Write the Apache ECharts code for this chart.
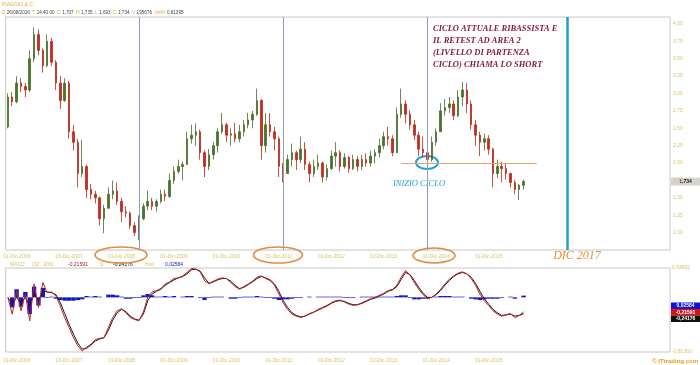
<!DOCTYPE html>
<html><head><meta charset="utf-8">
<script src="https://cdn.jsdelivr.net/npm/echarts@6/dist/echarts.min.js"></script>
<style>html,body{margin:0;padding:0;background:#fff}#c{width:700px;height:365px}</style>
</head><body><div id="c"></div>
<script>
// ---- categories: months Oct 2006 .. May 2019 ----
const months = [];
for (let y = 2006, m = 10; !(y === 2019 && m === 6);) {
  months.push(y + '-' + String(m).padStart(2, '0'));
  m++; if (m > 12) { m = 1; y++; }
}
const tickMonths = ['2006-12','2007-12','2008-12','2009-12','2010-12','2011-12','2012-12','2013-12','2014-12','2015-12'];
const tickLabels = ['01-Dic-2006','03-Dic-2007','01-Dic-2008','01-Dic-2009','01-Dic-2010','01-Dic-2011','03-Dic-2012','02-Dic-2013','01-Dic-2014','01-Dic-2015'];

// ---- monthly OHLC ----
const open = [2.52,2.95,2.88,3.15,3.10,3.05,3.50,3.85,3.62,3.40,
 3.75,3.45,3.15,2.90,3.15,2.45,2.30,1.85,1.95,1.62,
 1.55,1.50,1.20,1.35,1.55,1.60,1.45,1.30,1.28,1.10,
 1.00,1.20,1.38,1.45,1.38,1.45,1.55,1.52,1.75,1.88,
 1.95,1.98,2.35,2.40,2.45,2.15,1.95,2.12,2.25,2.45,
 2.55,2.40,2.42,2.35,2.45,2.55,2.62,2.70,2.90,2.25,
 2.55,2.45,2.35,1.95,1.85,2.05,2.15,2.05,2.20,1.98,
 1.85,1.95,2.00,1.80,1.92,2.10,2.15,1.95,2.08,1.92,
 2.05,1.95,2.05,2.00,2.10,2.15,2.25,2.38,2.35,2.15,
 2.70,2.85,2.70,2.55,2.40,2.20,2.15,2.05,2.30,2.45,
 2.75,2.80,2.85,2.68,2.95,3.05,2.85,2.55,2.40,2.30,
 2.35,2.20,1.85,1.95,1.92,1.85,1.72,1.62,1.68];
const close = [2.95,2.88,3.15,3.10,3.05,3.50,3.85,3.62,3.40,3.75,
 3.45,3.15,2.90,3.15,2.45,2.30,1.85,1.95,1.62,1.55,
 1.50,1.20,1.35,1.55,1.60,1.45,1.30,1.28,1.10,1.00,
 1.20,1.38,1.45,1.38,1.45,1.55,1.52,1.75,1.88,1.95,
 1.98,2.35,2.40,2.45,2.15,1.95,2.12,2.25,2.45,2.55,
 2.40,2.42,2.35,2.45,2.55,2.62,2.70,2.90,2.25,2.55,
 2.45,2.35,1.95,1.85,2.05,2.15,2.05,2.20,1.98,1.85,
 1.95,2.00,1.80,1.92,2.10,2.15,1.95,2.08,1.92,2.05,
 1.95,2.05,2.00,2.10,2.15,2.25,2.38,2.35,2.15,2.70,
 2.85,2.70,2.55,2.40,2.20,2.15,2.05,2.30,2.45,2.75,
 2.80,2.85,2.68,2.95,3.05,2.85,2.55,2.40,2.30,2.35,
 2.20,1.85,1.95,1.92,1.85,1.72,1.62,1.68,1.734];
const low = [2.50,2.82,2.86,3.02,2.95,3.02,3.45,3.55,3.30,3.38,
 3.40,3.05,2.78,2.88,2.35,2.18,1.65,1.80,1.50,1.48,
 1.42,1.10,0.99,1.35,1.48,1.40,1.15,1.22,1.05,0.95,
 0.89,1.18,1.32,1.32,1.30,1.42,1.45,1.50,1.70,1.85,
 1.75,1.98,2.28,2.25,2.05,1.80,1.90,2.05,2.15,2.42,
 2.30,2.25,2.30,2.30,2.38,2.50,2.50,2.68,2.05,2.15,
 2.38,2.18,1.80,1.72,1.85,1.95,1.90,2.00,1.90,1.72,
 1.80,1.90,1.72,1.75,1.90,1.95,1.88,1.92,1.86,1.90,
 1.88,1.90,1.95,1.95,2.00,2.08,2.20,2.25,2.10,2.14,
 2.65,2.57,2.48,2.33,2.10,2.08,1.92,2.02,2.25,2.45,
 2.68,2.72,2.62,2.66,2.82,2.72,2.48,2.25,2.10,2.18,
 2.12,1.65,1.78,1.72,1.76,1.65,1.55,1.47,1.62];
const high = [3.00,3.02,3.25,3.22,3.15,3.62,3.95,3.92,3.65,3.85,
 3.80,3.48,3.25,3.22,3.18,2.55,2.35,2.33,1.98,1.70,
 1.60,1.52,1.40,1.65,1.75,1.72,1.50,1.38,1.30,1.15,
 1.25,1.42,1.60,1.50,1.48,1.62,1.62,1.85,1.95,2.05,
 2.02,2.45,2.55,2.57,2.48,2.18,2.20,2.30,2.50,2.72,
 2.58,2.50,2.58,2.55,2.62,2.72,2.75,3.07,2.92,2.72,
 2.72,2.52,2.38,2.00,2.12,2.28,2.18,2.38,2.30,2.02,
 2.05,2.12,2.02,1.98,2.18,2.30,2.18,2.14,2.10,2.12,
 2.10,2.12,2.14,2.18,2.20,2.35,2.45,2.52,2.40,2.80,
 3.07,2.90,2.76,2.62,2.45,2.38,2.15,2.38,2.50,2.86,
 2.92,2.95,2.90,3.05,3.17,3.15,2.90,2.62,2.45,2.42,
 2.40,2.22,2.05,2.02,2.00,1.86,1.76,1.70,1.76];

// ---- MACD (32,200) ----
const macd = [0.00,-0.25,0.10,-0.20,0.05,-0.35,0.20,-0.15,0.22,0.07,
 0.08,0.02,-0.13,-0.30,-0.45,-0.60,-0.72,-0.80,-0.74,-0.70,
 -0.63,-0.61,-0.60,-0.45,-0.30,-0.20,-0.17,-0.23,-0.30,-0.33,
 -0.35,-0.22,0.00,0.08,0.10,0.13,0.20,0.23,0.28,0.29,
 0.32,0.37,0.43,0.42,0.38,0.25,0.20,0.24,0.27,0.29,
 0.28,0.22,0.16,0.12,0.16,0.20,0.24,0.30,0.32,0.28,
 0.25,0.18,0.05,-0.08,-0.18,-0.25,-0.28,-0.30,-0.28,-0.24,
 -0.22,-0.18,-0.15,-0.12,-0.08,-0.05,-0.04,-0.07,-0.10,-0.12,
 -0.11,-0.08,-0.05,-0.02,0.00,0.03,0.06,0.10,0.12,0.18,
 0.30,0.40,0.33,0.22,0.12,0.04,-0.02,0.00,0.05,0.12,
 0.20,0.27,0.32,0.36,0.38,0.35,0.28,0.18,0.05,-0.05,
 -0.12,-0.20,-0.25,-0.28,-0.26,-0.24,-0.30,-0.27,-0.21591];
const signal = [0.00,-0.10,0.00,-0.08,0.00,-0.12,0.05,-0.05,0.10,0.08,
 0.07,0.04,-0.08,-0.24,-0.40,-0.55,-0.68,-0.77,-0.76,-0.71,
 -0.65,-0.62,-0.60,-0.49,-0.34,-0.23,-0.18,-0.21,-0.28,-0.32,
 -0.34,-0.25,-0.05,0.05,0.09,0.12,0.18,0.22,0.26,0.29,
 0.31,0.35,0.41,0.42,0.39,0.29,0.21,0.23,0.26,0.28,
 0.28,0.24,0.18,0.13,0.15,0.19,0.23,0.28,0.31,0.29,
 0.26,0.20,0.09,-0.05,-0.15,-0.23,-0.27,-0.29,-0.28,-0.25,
 -0.22,-0.19,-0.16,-0.13,-0.09,-0.06,-0.05,-0.06,-0.09,-0.11,
 -0.11,-0.09,-0.06,-0.03,-0.01,0.02,0.05,0.09,0.11,0.16,
 0.27,0.37,0.34,0.25,0.15,0.06,0.00,0.00,0.04,0.10,
 0.18,0.25,0.31,0.35,0.37,0.35,0.30,0.21,0.09,-0.02,
 -0.10,-0.18,-0.23,-0.27,-0.26,-0.25,-0.28,-0.27,-0.24176];
const hist = [0.00,-0.15,0.12,-0.14,0.08,-0.25,0.16,-0.12,0.14,-0.01,
 0.01,-0.02,-0.04,-0.05,-0.05,-0.05,-0.04,-0.03,0.02,0.01,
 0.02,0.01,0.00,0.04,0.04,0.03,0.01,-0.02,-0.02,-0.01,
 -0.01,0.03,0.05,0.03,0.01,0.01,0.02,0.01,0.02,0.00,
 0.01,0.02,0.02,0.00,-0.01,-0.04,-0.01,0.01,0.01,0.01,
 0.00,-0.02,-0.02,-0.01,0.01,0.01,0.01,0.02,0.01,-0.01,
 -0.01,-0.02,-0.04,-0.03,-0.03,-0.02,-0.01,-0.01,0.00,0.01,
 0.00,0.01,0.01,0.01,0.01,0.01,0.01,-0.01,-0.01,-0.01,
 0.00,0.01,0.01,0.01,0.01,0.01,0.01,0.01,0.01,0.02,
 0.03,0.03,-0.01,-0.03,-0.03,-0.02,-0.02,0.00,0.01,0.02,
 0.02,0.02,0.01,0.01,0.01,0.00,-0.02,-0.03,-0.04,-0.03,
 -0.02,-0.02,-0.02,-0.01,0.00,0.01,-0.02,0.00,0.02584];

// ---- annotations ----
const cycleLines = ['2009-04','2012-01','2014-10'];
const targetLine = '2017-06';
const levelLine = { from: '2014-04', to: '2016-11', value: 2.0 };
const lastClose = 1.734;
const noteLines = ['CICLO ATTUALE RIBASSISTA E','IL RETEST AD AREA 2','(LIVELLO DI PARTENZA','CICLO) CHIAMA LO SHORT'];
const header = [['D','26/08/2016'],['T','14:40:00'],['O','1,707'],['H','1,735'],['L','1,693'],['C','1,734'],['V','195676'],['Var%','0,81395']];

const fmt = (v, d) => v.toFixed(d).replace('.', ',');
const axisYellow = '#d6c266';
const candleData = open.map((o, i) => [o, close[i], low[i], high[i]]);

function mkX(gi, margin) {
  return {
    type: 'category', gridIndex: gi, data: months, boundaryGap: true,
    axisLine: { show: false }, axisTick: { show: false }, splitLine: { show: false },
    axisLabel: {
      interval: (i, v) => tickMonths.includes(v),
      formatter: v => tickLabels[tickMonths.indexOf(v)] || '',
      color: axisYellow, fontSize: 5, margin: margin, hideOverlap: false,
      fontFamily: 'Liberation Sans'
    }
  };
}

const chart = echarts.init(document.getElementById('c'), null, { renderer: 'canvas' });
const option = {
  animation: false,
  backgroundColor: '#fff',
  grid: [
    { left: 3, top: 17, width: 667, height: 233, show: true, borderColor: '#c6c6c6', borderWidth: 1 },
    { left: 3, top: 268, width: 667, height: 84, show: true, borderColor: '#c6c6c6', borderWidth: 1 }
  ],
  xAxis: [mkX(0, 4), mkX(1, 6)],
  yAxis: [
    { gridIndex: 0, position: 'right', min: 0.75, max: 4.1, interval: 0.25,
      axisLine: { show: false }, axisTick: { show: false }, splitLine: { show: false },
      axisLabel: { showMinLabel: false, showMaxLabel: false, color: axisYellow, fontSize: 5, margin: 3,
        fontFamily: 'Liberation Sans', formatter: v => fmt(v, 2) } },
    { gridIndex: 1, position: 'right', min: -0.8136, max: 0.43692, interval: 1.25052,
      axisLine: { show: false }, axisTick: { show: false }, splitLine: { show: false },
      axisLabel: { color: axisYellow, fontSize: 5, margin: 2, fontFamily: 'Liberation Sans',
        formatter: v => fmt(v, 5) } }
  ],
  series: [
    { type: 'candlestick', xAxisIndex: 0, yAxisIndex: 0, data: candleData, barWidth: 2,
      itemStyle: { color: '#3b7d2a', color0: '#d02a1c', borderColor: '#4a6a2a', borderColor0: '#b8281a', borderWidth: 0.8 },
      markLine: {
        silent: true, symbol: 'none', label: { show: false },
        data: [
          ...cycleLines.map(m => ({ xAxis: m, lineStyle: { color: '#8e9cc4', width: 1, type: 'solid' } })),
          { xAxis: targetLine, lineStyle: { color: '#1ba0d6', width: 2.5, type: 'solid' } },
          [ { coord: [levelLine.from, levelLine.value] }, { coord: [levelLine.to, levelLine.value], lineStyle: { color: '#e2a466', width: 1, type: 'solid' } } ]
        ]
      }
    },
    { type: 'bar', xAxisIndex: 1, yAxisIndex: 1, data: hist, barWidth: '100%',
      itemStyle: { color: '#1414c8' } },
    { type: 'line', xAxisIndex: 1, yAxisIndex: 1, data: signal, symbol: 'none',
      lineStyle: { color: '#2a1010', width: 1 } },
    { type: 'line', xAxisIndex: 1, yAxisIndex: 1, data: macd, symbol: 'none',
      lineStyle: { color: '#b52525', width: 1 } }
  ]
};
chart.setOption(option);

const py = chart.convertToPixel({ yAxisIndex: 0 }, lastClose);
const small = '5px "Liberation Sans"';
const boldSmall = 'bold 5px "Liberation Sans"';
function txt(x, y, text, fill, font, align) {
  return { type: 'text', x: x, y: y, silent: true,
    style: { text: text, fill: fill, font: font || small, align: align || 'left', verticalAlign: 'middle' } };
}
function tag(y, h, bg, text, fg) {
  return [
    { type: 'rect', silent: true, shape: { x: 671, y: y, width: 29, height: h }, style: { fill: bg } },
    txt(685.5, y + h / 2, text, fg, boldSmall, 'center')
  ];
}
const headerText = header.map(h => '{k|' + h[0] + '}{v|' + h[1] + '}').join('  ');
const graphics = [
  txt(2, 5, 'PIAGGIO & C.', '#e6a83a', small),
  { type: 'text', x: 2, y: 12.5, silent: true,
    style: { text: headerText, verticalAlign: 'middle', align: 'left', font: '4.6px "Liberation Sans"',
      rich: { k: { fill: '#e0b040', font: '4.6px "Liberation Sans"', padding: [0, 1.5, 0, 0] },
              v: { fill: '#444', font: '4.6px "Liberation Sans"' } } } },
  // MACD legend
  txt(10, 264.5, 'MACD', axisYellow, small),
  txt(32, 264.5, '(32 , 200):', axisYellow, small),
  txt(68, 264.5, '-0,21591', '#b01818', small),
  txt(100, 264.5, 'S:', axisYellow, small),
  txt(113, 264.5, '-0,24176', '#111', small),
  txt(145, 264.5, 'Hist:', axisYellow, small),
  txt(165, 264.5, '0,02584', '#1a1a90', small),
  // note text
  { type: 'text', x: 433, y: 23, silent: true,
    style: { text: noteLines.join('\n'), fill: '#8a1c3c', font: 'italic bold 8.5px "Liberation Serif"',
      lineHeight: 11.8, align: 'left', verticalAlign: 'top' } },
  { type: 'text', x: 419, y: 184, silent: true,
    style: { text: 'INIZIO CICLO', fill: '#22a0d6', font: 'italic 8.5px "Liberation Serif"', align: 'center', verticalAlign: 'middle' } },
  { type: 'text', x: 577, y: 256, silent: true,
    style: { text: 'DIC 2017', fill: '#e8903a', font: 'italic 12px "Liberation Serif"', align: 'center', verticalAlign: 'middle' } },
  // ellipses
  { type: 'ellipse', silent: true, shape: { cx: 121, cy: 255, rx: 26, ry: 8 }, style: { fill: 'none', stroke: '#e08a42', lineWidth: 1.6 } },
  { type: 'ellipse', silent: true, shape: { cx: 278, cy: 255, rx: 24.5, ry: 8 }, style: { fill: 'none', stroke: '#e08a42', lineWidth: 1.6 } },
  { type: 'ellipse', silent: true, shape: { cx: 434, cy: 255.5, rx: 21, ry: 7.5 }, style: { fill: 'none', stroke: '#e08a42', lineWidth: 1.6 } },
  { type: 'ellipse', silent: true, shape: { cx: 427, cy: 162.5, rx: 11, ry: 6.5 }, style: { fill: 'none', stroke: '#22a0d6', lineWidth: 2 } },
  // right tags
  ...tag(py - 4, 8, '#d6d4d0', fmt(lastClose, 3), '#222'),
  ...tag(302.5, 6.5, '#1010d8', fmt(hist[hist.length - 1], 5), '#fff'),
  ...tag(309, 6.5, '#e01010', fmt(macd[macd.length - 1], 5), '#fff'),
  ...tag(315.5, 6.5, '#111', fmt(signal[signal.length - 1], 5), '#fff'),
  txt(698, 361, '\u00A9 ITtrading.com', '#e0a020', 'bold 6px "Liberation Sans"', 'right')
];
chart.setOption({ graphic: graphics });
</script></body></html>
